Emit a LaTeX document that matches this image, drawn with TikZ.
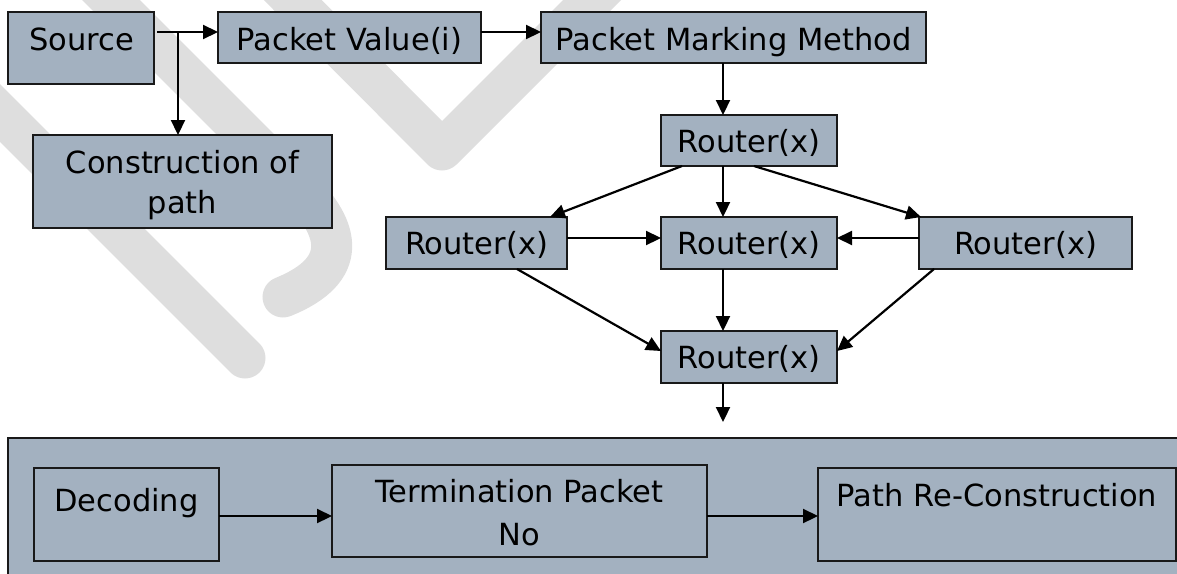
\documentclass[tikz,border=0pt]{standalone}
\usepackage{fontspec}
\setmainfont{DejaVu Sans}
\usetikzlibrary{arrows.meta}
\definecolor{boxfill}{RGB}{163,177,192}
\definecolor{wm}{RGB}{222,222,222}
\begin{document}
\begin{tikzpicture}[x=1pt,y=-1pt,
  box/.style={draw=black!90,line width=1.8pt,fill=boxfill,inner sep=0pt,outer sep=0pt},
  txt/.style={font=\fontsize{30.5}{36}\selectfont,inner sep=0pt,anchor=base},
  arr/.style={line width=2.2pt,-{Triangle[length=15pt,width=14pt]}},
  wmark/.style={draw=wm,line width=41pt,line cap=round,line join=round}]
\useasboundingbox (0,0) rectangle (1177,573);
\begin{scope}
\clip (0,0) rectangle (1177,573);
% watermark
\draw[wmark] (-40,73) -- (245,358);
\draw[wmark] (60,-51) -- (300,189) .. controls (340,229) and (350,270) .. (283,297);
\draw[wmark] (233,-60) -- (442,150) -- (650,-58);
% top boxes
\node[box,minimum width=146pt,minimum height=72pt] (src) at (81,48) {};
\node[box,minimum width=263pt,minimum height=51pt] (pv) at (349.5,37.5) {};
\node[box,minimum width=385pt,minimum height=51pt] (pmm) at (733.5,37.5) {};
\node[box,minimum width=299pt,minimum height=93pt] (cons) at (182.5,181.5) {};
\node[box,minimum width=176pt,minimum height=51pt] (rtop) at (749,140.5) {};
\node[box,minimum width=181pt,minimum height=52pt] (rleft) at (476.5,243) {};
\node[box,minimum width=176pt,minimum height=52pt] (rmid) at (749,243) {};
\node[box,minimum width=213pt,minimum height=52pt] (rright) at (1025.5,243) {};
\node[box,minimum width=176pt,minimum height=52pt] (rbot) at (749,357) {};
% bottom container
\node[box,minimum width=1182pt,minimum height=162pt] (big) at (599,519) {};
\node[box,minimum width=185pt,minimum height=93pt] (dec) at (126.5,514.5) {};
\node[box,minimum width=375pt,minimum height=92pt] (term) at (519.5,511) {};
\node[box,minimum width=358pt,minimum height=93pt] (path) at (997,514.5) {};
% texts
\node[txt] (tsrc) at (82,50) {Source};
\node[txt] (tpv) at (349.5,50) {Packet Value(i)};
\node[txt] (tpmm) at (733.5,50) {Packet Marking Method};
\node[txt] (tcons1) at (182.5,173) {Construction of};
\node[txt] (tcons2) at (182.5,213) {path};
\node[txt] (trtop) at (749,152) {Router(x)};
\node[txt] (trleft) at (476.5,254) {Router(x)};
\node[txt] (trmid) at (749,254) {Router(x)};
\node[txt] (trright) at (1025.5,254) {Router(x)};
\node[txt] (trbot) at (749,368) {Router(x)};
\node[txt] (tdec) at (126.5,511) {Decoding};
\node[txt] (tterm1) at (519.5,502) {Termination Packet};
\node[txt] (tterm2) at (519.5,545) {No};
\node[txt] (tpath) at (997,506) {Path Re-Construction};
% connectors
\coordinate (br) at (178,32);
\draw[arr] ([xshift=3pt,yshift=16pt]src.east) -- ([yshift=5.5pt]pv.west);
\draw[arr] (br) -- (br |- cons.north);
\draw[arr] ([yshift=5.5pt]pv.east) -- ([yshift=5.5pt]pmm.west);
\draw[arr] ([xshift=-10.5pt]pmm.south) -- ([xshift=-26pt]rtop.north);
\draw[arr] ([xshift=21pt]rtop.south west) -- ([xshift=-17pt]rleft.north east);
\draw[arr] ([xshift=-26pt]rtop.south) -- ([xshift=-26pt]rmid.north);
\draw[arr] ([xshift=5pt]rtop.south) -- ([xshift=2pt]rright.north west);
\draw[arr] ([yshift=5pt]rleft.east) -- ([yshift=5pt]rmid.west);
\draw[arr] ([yshift=5pt]rright.west) -- ([yshift=5pt]rmid.east);
\draw[arr] ([xshift=-26pt]rmid.south) -- ([xshift=-26pt]rbot.north);
\draw[arr] ([xshift=-50pt]rleft.south east) -- ([yshift=6pt]rbot.west);
\draw[arr] ([xshift=15pt]rright.south west) -- ([yshift=6pt]rbot.east);
\coordinate (dn) at (723,422);
\draw[arr] ([xshift=-26pt]rbot.south) -- (dn);
\draw[arr] ([yshift=-1.5pt]dec.east) -- ([yshift=-5pt]term.west);
\draw[arr] ([yshift=-5pt]term.east) -- ([yshift=-1.5pt]path.west);
\end{scope}
\end{tikzpicture}
\end{document}
